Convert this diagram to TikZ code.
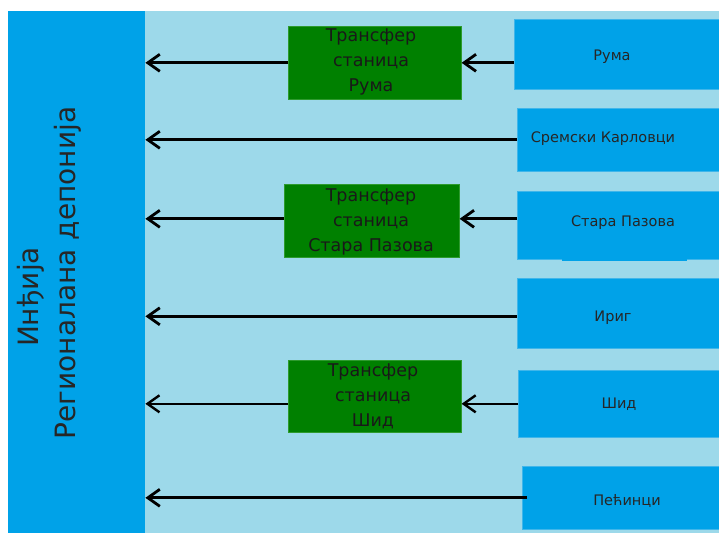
\documentclass[tikz,border=0pt]{standalone}
\usepackage{fontspec}
\setmainfont{DejaVu Sans}
\usetikzlibrary{arrows.meta,calc}
\definecolor{paleblue}{HTML}{9DD9EA}
\definecolor{deepblue}{HTML}{00A2E8}
\definecolor{edgeblue}{HTML}{40B6EA}
\definecolor{stationgreen}{HTML}{008000}
\definecolor{edgegreen}{HTML}{2E9A2E}
\tikzset{
  townbox/.style={draw=edgeblue, line width=0.6pt, fill=deepblue, anchor=north west, inner sep=0pt},
  townlabel/.style={font=\fontsize{14.5}{17}\selectfont, text=black!85, inner sep=0pt},
  stationbox/.style={draw=edgegreen, line width=0.6pt, fill=stationgreen, anchor=north west, inner sep=0pt},
  stationlabel/.style={font=\fontsize{17.5}{25}\selectfont, text=black!90, align=center, inner sep=0pt},
  sidelabel/.style={font=\fontsize{28}{30}\selectfont, text=black!85, rotate=90, inner sep=0pt},
  flow/.style={line width=3pt, -{Straight Barb[length=12pt,width=17pt,line width=2.8pt]}},
  thinflow/.style={line width=1.5pt, -{Straight Barb[length=12pt,width=17pt,line width=2.4pt]}}
}
\begin{document}
\begin{tikzpicture}[x=1pt,y=-1pt]
\useasboundingbox (0,0) rectangle (719,533);
\fill[white] (0,0) rectangle (719,533);
% pale panel and the landfill column
\fill[paleblue] (8,11) rectangle (719,533);
\node[fill=deepblue, anchor=north west, inner sep=0pt, minimum width=137pt, minimum height=522pt] (depo) at (8,11) {};
\node[sidelabel] (depoA) at (31,297) {Инђија};
\node[sidelabel] (depoB) at (68,273) {Регионалана депонија};

% municipalities
\node[townbox, minimum width=205pt, minimum height=70pt] (ruma) at (514,19) {};
\node[townbox, minimum width=202pt, minimum height=63pt] (sk) at (517,108) {};
\node[townbox, minimum width=202pt, minimum height=68pt] (sp) at (517,191) {};
\node[townbox, minimum width=202pt, minimum height=70pt] (irig) at (517,278) {};
\node[townbox, minimum width=201pt, minimum height=67pt] (shid) at (518,370) {};
\node[townbox, minimum width=197pt, minimum height=63pt] (pec) at (522,466) {};
\fill[deepblue] (562,258) rectangle (687,261);

\node[townlabel] (lruma) at (612,57) {Рума};
\node[townlabel] (lsk) at (603,139) {Сремски Карловци};
\node[townlabel] (lsp) at (623,223) {Стара Пазова};
\node[townlabel] (lirig) at (613,318) {Ириг};
\node[townlabel] (lshid) at (619,404) {Шид};
\node[townlabel] (lpec) at (627,501) {Пећинци};

% transfer stations
\node[stationbox, minimum width=173pt, minimum height=73pt] (t1) at (288,26) {};
\node[stationbox, minimum width=175pt, minimum height=73pt] (t2) at (284,184) {};
\node[stationbox, minimum width=173pt, minimum height=72pt] (t3) at (288,360) {};
\node[stationlabel] (lt1) at (371,62) {Трансфер\\станица\\Рума};
\node[stationlabel] (lt2) at (371,222) {Трансфер\\станица\\Стара Пазова};
\node[stationlabel] (lt3) at (373,396) {Трансфер\\станица\\Шид};

% waste flows
\draw[flow] (ruma.west |- t1.east) -- (t1.east);
\draw[flow] (t1.west) -- (depo.east |- t1.west);
\draw[flow] (sk.west) -- (depo.east |- sk.west);
\draw[flow] ($(sp.west |- t2.east)+(0,-2)$) -- ($(t2.east)+(0,-2)$);
\draw[flow] ($(t2.west)+(0,-2)$) -- ($(depo.east |- t2.west)+(0,-2)$);
\draw[flow] ($(irig.west)+(0,3)$) -- ($(depo.east |- irig.west)+(0,3)$);
\draw[thinflow] (shid.west) -- (t3.east |- shid.west);
\draw[thinflow] (t3.west |- shid.west) -- (depo.east |- shid.west);
\draw[flow] ($(pec.west)+(5,0)$) -- (depo.east |- pec.west);
\end{tikzpicture}
\end{document}
